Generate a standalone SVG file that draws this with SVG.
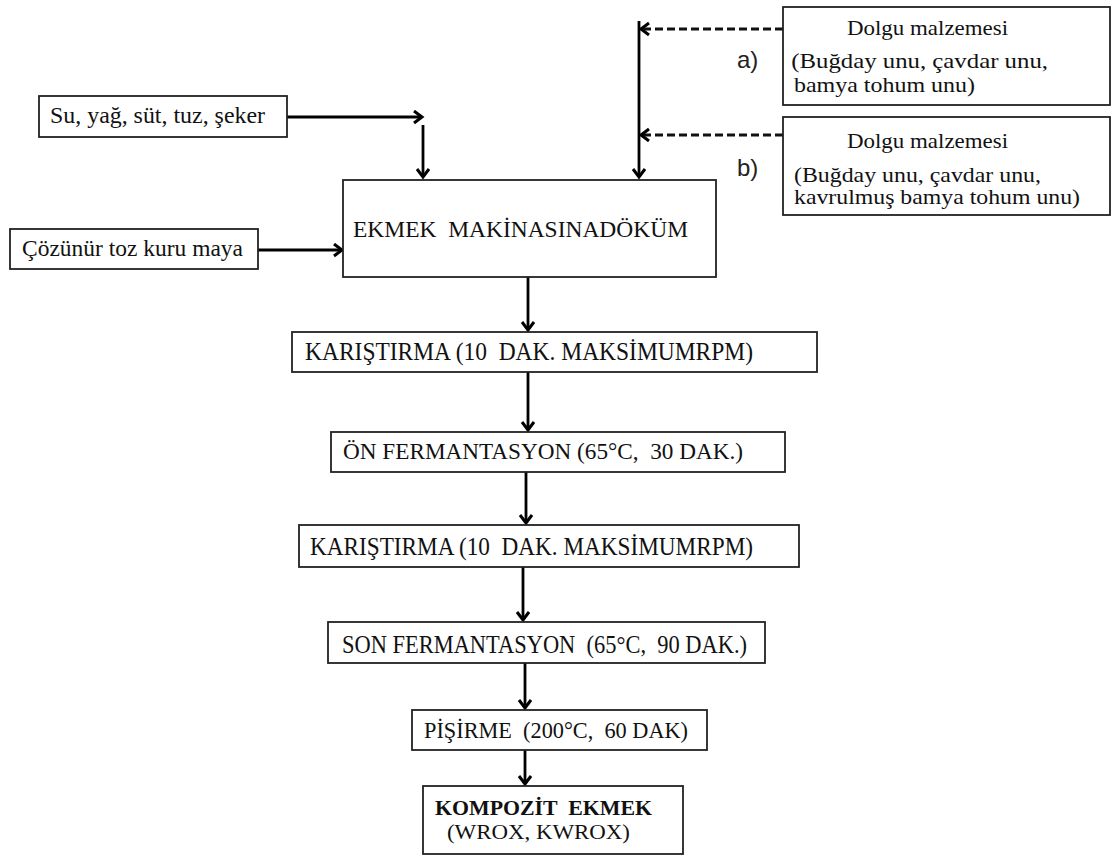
<svg xmlns="http://www.w3.org/2000/svg" width="1112" height="856" viewBox="0 0 1112 856">
<defs>
<style>
.box{fill:#fff;stroke:#222;stroke-width:1.8}
.t{font-family:"Liberation Serif","Times New Roman",serif;fill:#111;white-space:pre}
.s{font-family:"Liberation Sans",Arial,sans-serif;fill:#222}
.c{stroke:#000;stroke-width:2.8;fill:none}
.d{stroke:#111;stroke-width:2.8;fill:none;stroke-dasharray:8 4}
</style>
<marker id="ah" markerUnits="userSpaceOnUse" markerWidth="16" markerHeight="16" refX="9" refY="7" orient="auto">
<path d="M1,1 L9,7 L1,13" fill="none" stroke="#000" stroke-width="3"/>
</marker>
</defs>
<rect width="1112" height="856" fill="#fff"/>
<g id="connectors">
<path class="c" d="M287,117 H422" marker-end="url(#ah)"/>
<path class="c" d="M423,125 V177" marker-end="url(#ah)"/>
<path class="c" d="M258,250 H342" marker-end="url(#ah)"/>
<path class="c" d="M639,21 V177" marker-end="url(#ah)"/>
<path class="d" d="M783,29 H641" marker-end="url(#ah)"/>
<path class="d" d="M783,135 H641" marker-end="url(#ah)"/>
<path class="c" d="M528,277 V330" marker-end="url(#ah)"/>
<path class="c" d="M528,372 V430" marker-end="url(#ah)"/>
<path class="c" d="M526,472 V523" marker-end="url(#ah)"/>
<path class="c" d="M523,567 V620" marker-end="url(#ah)"/>
<path class="c" d="M525,663 V708" marker-end="url(#ah)"/>
<path class="c" d="M525,750 V784" marker-end="url(#ah)"/>
</g>
<g id="label-a"><text class="s" x="737" y="68" font-size="24">a)</text></g>
<g id="label-b"><text class="s" x="737" y="176" font-size="24">b)</text></g>
<g id="dolgu-a">
<rect class="box" x="783" y="7" width="327" height="98"/>
<text class="t" x="847" y="35" font-size="21" textLength="161" lengthAdjust="spacingAndGlyphs">Dolgu malzemesi</text>
<text class="t" x="785" y="68" font-size="21" textLength="263" lengthAdjust="spacingAndGlyphs"> (Buğday unu, çavdar unu,</text>
<text class="t" x="794" y="92" font-size="21" textLength="181" lengthAdjust="spacingAndGlyphs">bamya tohum unu)</text>
</g>
<g id="dolgu-b">
<rect class="box" x="783" y="117" width="327" height="98"/>
<text class="t" x="847" y="148" font-size="21" textLength="161" lengthAdjust="spacingAndGlyphs">Dolgu malzemesi</text>
<text class="t" x="794" y="182" font-size="21" textLength="247" lengthAdjust="spacingAndGlyphs">(Buğday unu, çavdar unu,</text>
<text class="t" x="794" y="204" font-size="21" textLength="286" lengthAdjust="spacingAndGlyphs">kavrulmuş bamya tohum unu)</text>
</g>
<g id="su">
<rect class="box" x="39" y="96" width="248" height="41"/>
<text class="t" x="50" y="123" font-size="23" textLength="215" lengthAdjust="spacingAndGlyphs">Su, yağ, süt, tuz, şeker</text>
</g>
<g id="maya">
<rect class="box" x="10" y="229" width="248" height="40"/>
<text class="t" x="22" y="256" font-size="23" textLength="221" lengthAdjust="spacingAndGlyphs">Çözünür toz kuru maya</text>
</g>
<g id="dokum">
<rect class="box" x="343" y="180" width="373" height="97"/>
<text class="t" x="353" y="237" font-size="24" textLength="335" lengthAdjust="spacingAndGlyphs">EKMEK  MAKİNASINADÖKÜM</text>
</g>
<g id="karistirma1">
<rect class="box" x="292" y="332" width="525" height="40"/>
<text class="t" x="305" y="360" font-size="25" textLength="448" lengthAdjust="spacingAndGlyphs">KARIŞTIRMA (10  DAK. MAKSİMUMRPM)</text>
</g>
<g id="on-ferm">
<rect class="box" x="331" y="432" width="454" height="40"/>
<text class="t" x="343" y="459" font-size="24" textLength="400" lengthAdjust="spacingAndGlyphs">ÖN FERMANTASYON (65°C,  30 DAK.)</text>
</g>
<g id="karistirma2">
<rect class="box" x="299" y="525" width="500" height="42"/>
<text class="t" x="310" y="555" font-size="25" textLength="443" lengthAdjust="spacingAndGlyphs">KARIŞTIRMA (10  DAK. MAKSİMUMRPM)</text>
</g>
<g id="son-ferm">
<rect class="box" x="328" y="622" width="437" height="41"/>
<text class="t" x="342" y="653" font-size="25" textLength="405" lengthAdjust="spacingAndGlyphs">SON FERMANTASYON  (65°C,  90 DAK.)</text>
</g>
<g id="pisirme">
<rect class="box" x="412" y="710" width="295" height="40"/>
<text class="t" x="424" y="738" font-size="23" textLength="264" lengthAdjust="spacingAndGlyphs">PİŞİRME  (200°C,  60 DAK)</text>
</g>
<g id="kompozit">
<rect class="box" x="423" y="786" width="260" height="68"/>
<text class="t" x="435" y="815" font-size="21" font-weight="bold" textLength="217" lengthAdjust="spacingAndGlyphs">KOMPOZİT  EKMEK</text>
<text class="t" x="447" y="839" font-size="21" textLength="183" lengthAdjust="spacingAndGlyphs">(WROX, KWROX)</text>
</g>
</svg>
